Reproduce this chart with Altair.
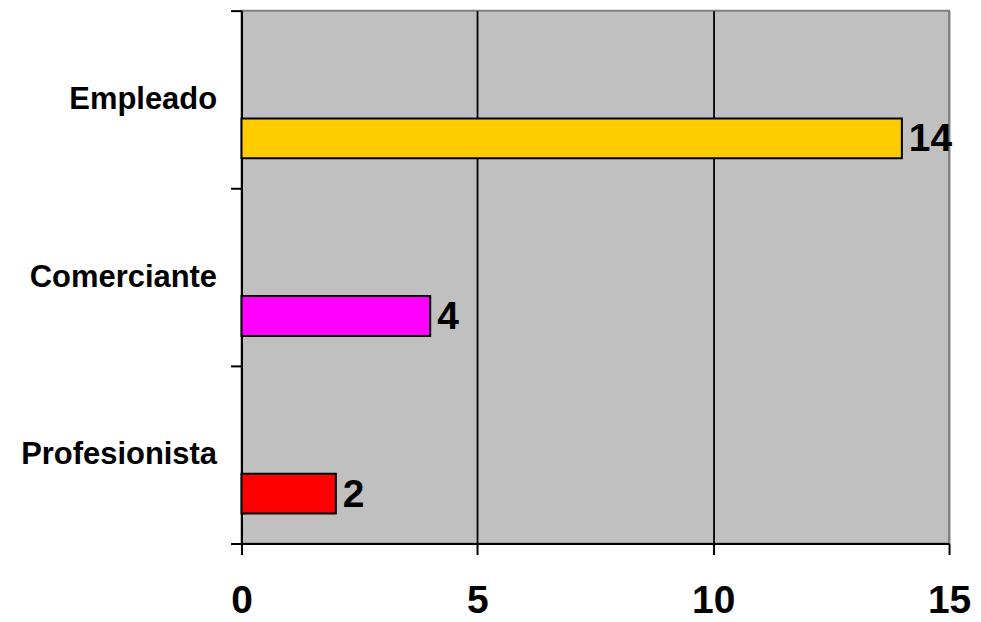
import altair as alt
import pandas as pd

categories = ["Empleado", "Comerciante", "Profesionista"]
values = [14, 4, 2]
colors = ["#FFCC00", "#FF00FF", "#FF0000"]
x_ticks = [0, 5, 10, 15]

df = pd.DataFrame({"cat": categories, "val": values, "color": colors})

FONT = "Liberation Sans"

y_enc = alt.Y(
    "cat:N",
    sort=categories,
    scale=alt.Scale(paddingInner=0, paddingOuter=0),
    axis=alt.Axis(
        title=None,
        tickBand="extent",
        labelFont=FONT,
        labelFontWeight="bold",
        labelFontSize=31,
        labelColor="black",
        labelPadding=14,
        labelLimit=400,
        tickColor="black",
        tickSize=11,
        tickWidth=2,
        domainColor="black",
        domainWidth=2,
        grid=False,
    ),
)

x_enc = alt.X(
    "val:Q",
    scale=alt.Scale(domain=[0, 15], nice=False, zero=True),
    axis=alt.Axis(
        title=None,
        values=x_ticks,
        labelFont=FONT,
        labelFontWeight="bold",
        labelFontSize=39,
        labelColor="black",
        labelPadding=27,
        labelFlush=False,
        tickColor="black",
        tickSize=11,
        tickWidth=2,
        domainColor="black",
        domainWidth=2,
        grid=True,
        gridColor=alt.condition("datum.value >= 15", alt.value("#808080"), alt.value("black")),
        gridWidth=1.8,
        gridOpacity=1,
    ),
)

bars = alt.Chart(df).mark_bar(
    height=40, yOffset=39, stroke="black", strokeWidth=2
).encode(
    x=x_enc,
    y=y_enc,
    color=alt.Color("color:N", scale=None),
)

labels = alt.Chart(df).mark_text(
    align="left", baseline="middle", dx=7, yOffset=40,
    font=FONT, fontSize=39, fontWeight="bold", color="black"
).encode(
    x=alt.X("val:Q"),
    y=alt.Y("cat:N", sort=categories),
    text=alt.Text("val:Q"),
)

chart = alt.layer(bars, labels).properties(
    width=709,
    height=534,
    autosize=alt.AutoSizeParams(type="none"),
    padding={"left": 234, "top": 2, "right": 24, "bottom": 76},
    background="white",
).configure_view(
    fill="#C0C0C0",
    stroke="#808080",
    strokeWidth=2,
)

chart.save("out.html", embed_options={"renderer": "svg", "actions": False})
